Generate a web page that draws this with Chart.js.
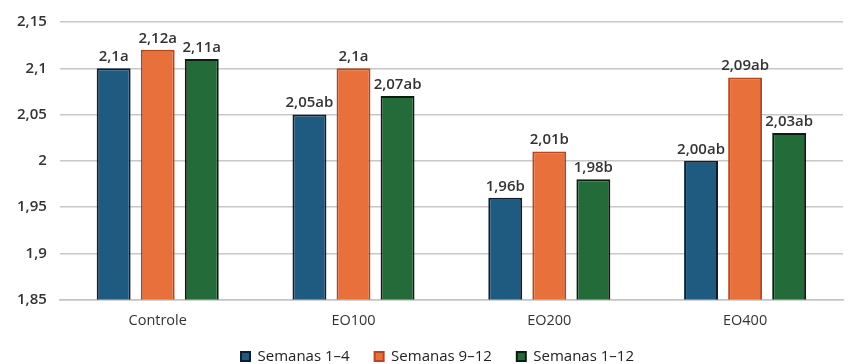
<!DOCTYPE html>
<html>
<head>
<meta charset="utf-8">
<script src="https://cdn.jsdelivr.net/npm/chart.js@4"></script>
<style>
  html, body { margin: 0; padding: 0; background: #fff; }
  #wrap { width: 849px; height: 364px; }
</style>
</head>
<body>
<div id="wrap"><canvas id="chart" width="849" height="364"></canvas></div>
<script>
const categories = ["Controle", "EO100", "EO200", "EO400"];
const seriesNames = ["Semanas 1–4", "Semanas 9–12", "Semanas 1–12"];
const weeks1to4 = [2.10, 2.05, 1.96, 2.00];
const weeks9to12 = [2.12, 2.10, 2.01, 2.09];
const weeks1to12 = [2.11, 2.07, 1.98, 2.03];
const labels1to4 = ["2,1a", "2,05ab", "1,96b", "2,00ab"];
const labels9to12 = ["2,12a", "2,1a", "2,01b", "2,09ab"];
const labels1to12 = ["2,11a", "2,07ab", "1,98b", "2,03ab"];
const yTicks = [1.85, 1.9, 1.95, 2, 2.05, 2.1, 2.15];

const fontFamily = "'Open Sans', 'Liberation Sans', Arial, sans-serif";
const legendPad = 25;
const legendFont = 15;

// writes the value + letter text above every bar
const barLabels = {
  id: "barLabels",
  afterDatasetsDraw(chart) {
    const ctx = chart.ctx;
    ctx.save();
    ctx.font = "600 15px " + fontFamily;
    ctx.fillStyle = "#333";
    ctx.textAlign = "center";
    ctx.textBaseline = "bottom";
    chart.data.datasets.forEach((ds, i) => {
      chart.getDatasetMeta(i).data.forEach((bar, j) => {
        ctx.fillText(ds.pointText[j], bar.x, bar.y - 4);
      });
    });
    ctx.restore();
  }
};

// legend row sits low near the bottom edge, a bit right of centre
const legendRow = {
  id: "legendRow",
  afterLayout(chart) {
    const lg = chart.legend;
    if (!lg) return;
    lg.top = 358 - legendPad - legendFont * 0.6;
    lg.bottom = chart.height;
    lg.height = lg.bottom - lg.top;
    lg.left += 14;
    lg.right += 14;
  }
};

new Chart(document.getElementById("chart"), {
  type: "bar",
  data: {
    labels: categories,
    datasets: [
      { label: seriesNames[0], data: weeks1to4, pointText: labels1to4,
        backgroundColor: "#1f5a80", borderColor: "#0c1e30" },
      { label: seriesNames[1], data: weeks9to12, pointText: labels9to12,
        backgroundColor: "#e8703a", borderColor: "#b5461f" },
      { label: seriesNames[2], data: weeks1to12, pointText: labels1to12,
        backgroundColor: "#236b38", borderColor: "#0b1c10" }
    ]
  },
  options: {
    responsive: false,
    animation: false,
    // the tall legend box is let hang past the bottom edge
    layout: { padding: { left: 4, right: 6, top: -2, bottom: -29 } },
    datasets: {
      bar: {
        borderWidth: 2,
        categoryPercentage: 0.675,
        barPercentage: 0.77
      }
    },
    scales: {
      x: {
        grid: { display: false, drawTicks: false },
        border: { display: true, color: "#c4c4c4", width: 1.5 },
        ticks: { color: "#333", font: { family: fontFamily, size: 14.5 }, padding: 13 }
      },
      y: {
        min: 1.85,
        max: 2.15,
        afterBuildTicks(axis) { axis.ticks = yTicks.map(v => ({ value: v })); },
        grid: { color: "#c8c8c8", lineWidth: 1.5, drawTicks: false },
        border: { display: false },
        ticks: {
          color: "#333",
          padding: 13,
          font: { family: fontFamily, size: 15, weight: "600" },
          callback: v => String(Number(v.toFixed(2))).replace(".", ",")
        }
      }
    },
    plugins: {
      legend: {
        position: "bottom",
        labels: {
          boxWidth: 9,
          boxHeight: 9,
          padding: legendPad,
          color: "#222",
          font: { family: fontFamily, size: legendFont }
        }
      },
      tooltip: { enabled: false }
    }
  },
  plugins: [barLabels, legendRow]
});
</script>
</body>
</html>
